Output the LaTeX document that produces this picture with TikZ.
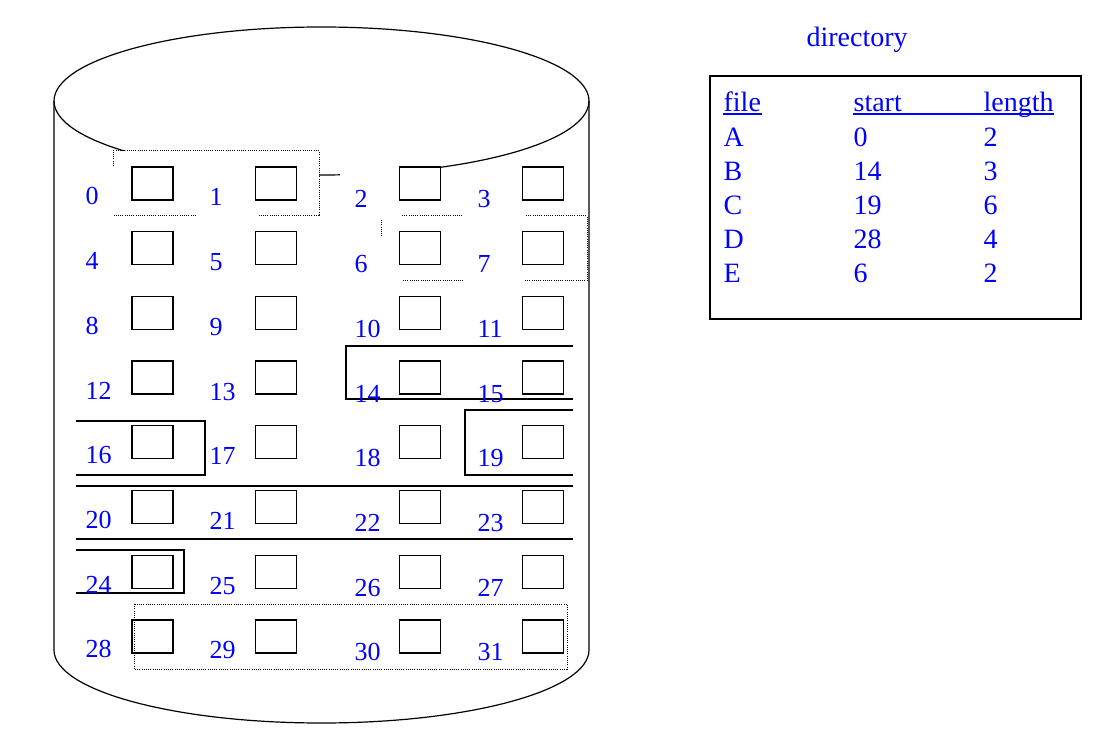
\documentclass[tikz,border=0pt]{standalone}
\usepackage{fontspec}
\setmainfont{Liberation Serif}

\begin{document}
\begin{tikzpicture}[x=0.5pt, y=-0.5pt, line width=0.6pt,
    blk/.style={draw, rectangle, inner sep=0pt, minimum width=20.5pt, minimum height=16.5pt},
    num/.style={text=blue, inner sep=0pt, anchor=base west, font=\fontsize{13}{15}\selectfont},
    txt/.style={text=blue, inner sep=0pt, anchor=base west, font=\fontsize{14}{16}\selectfont},
    dotline/.style={line width=0.5pt, dash pattern=on 0.5pt off 0.6pt}]
    \useasboundingbox (0,0) rectangle (1117,742);
    % disk
    \draw (321.5,101) ellipse [x radius=267.5, y radius=74];
    \draw (54,101) -- (54,650) arc [start angle=180, end angle=0, x radius=267.5, y radius=73] -- (589,101);
    \fill[white] (113,151) rectangle (319,216);
    \fill[white] (340,167) rectangle (441,216);
    % file A
    \draw[dotline] (113,166) -- (113,151) -- (319,151) -- (319,216) -- (258,216);
    \draw[dotline] (196,216) -- (113,216);
    % file E
    \draw[dotline] (381,220) -- (381,236);
    \draw[dotline] (402,216) -- (463,216);
    \draw[dotline] (403,281) -- (463,281);
    \draw[dotline] (526,216) -- (587,216) -- (587,281) -- (525,281);
    % file B
    \draw (573,346) -- (346,346) -- (346,399) -- (573,399);
    % file C
    \draw (76,421) -- (205,421) -- (205,475) -- (76,475);
    \draw (573,410) -- (465,410) -- (465,475) -- (573,475);
    \draw (76,486) -- (573,486);
    \draw (76,539) -- (573,539);
    \draw (76,550) -- (184,550) -- (184,593) -- (76,593);
    % file D
    \draw[dotline] (134,604) rectangle (567,669);
    % blocks
    \foreach \r in {0,...,7}
      \foreach \c/\bx/\lx/\dy in {0/152.5/85/-1, 1/276/209/0, 2/420/354/2, 3/543/477/2} {
        \pgfmathtruncatemacro\n{4*\r+\c}
        \node[blk] (blk\n) at (\bx,183.5+64.7*\r) {};
        \node[num] (num\n) at (\lx,206+\dy+64.7*\r) {\n};
      }
    % directory
    \node[txt] (title) at (806,47) {directory};
    \draw (710,76) rectangle (1081,319);
    \node[txt] (hfile) at (723,112) {file};
    \node[txt] (hstart) at (853,112) {start};
    \node[txt] (hlength) at (983,112) {length};
    \draw[blue] ([yshift=-1pt]hfile.base west) -- ([yshift=-1pt]hfile.base east);
    \draw[blue] ([yshift=-1pt]hstart.base west) -- ([yshift=-1pt]hlength.base east);
    \foreach \f/\s/\l [count=\i] in {A/0/2, B/14/3, C/19/6, D/28/4, E/6/2} {
      \node[txt] (file\f) at (723,112+34.2*\i) {\f};
      \node[txt] (start\f) at (853,112+34.2*\i) {\s};
      \node[txt] (len\f) at (983,112+34.2*\i) {\l};
    }
  \end{tikzpicture}
\end{document}
